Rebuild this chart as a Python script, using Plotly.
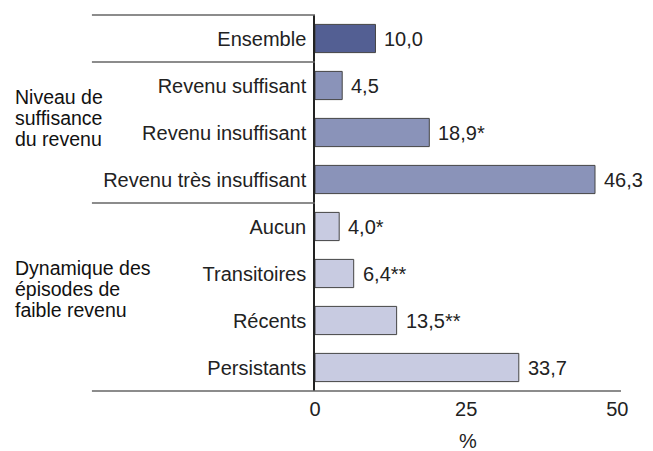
import plotly.graph_objects as go

categories = ["Ensemble", "Revenu suffisant", "Revenu insuffisant", "Revenu très insuffisant",
              "Aucun", "Transitoires", "Récents", "Persistants"]
values = [10.0, 4.5, 18.9, 46.3, 4.0, 6.4, 13.5, 33.7]
value_labels = ["10,0", "4,5", "18,9*", "46,3", "4,0*", "6,4**", "13,5**", "33,7"]
bar_colors = ["#535f93", "#8a93b9", "#8a93b9", "#8a93b9", "#c8cbe1", "#c8cbe1", "#c8cbe1", "#c8cbe1"]
group1_lines = ["Niveau de", "suffisance", "du revenu"]
group2_lines = ["Dynamique des", "épisodes de", "faible revenu"]
x_ticks = [0, 25, 50]

FONT = "Liberation Sans, Arial, sans-serif"
FS = 20
GFS = 19.5
fig = go.Figure()
fig.add_trace(go.Bar(
    x=values, y=categories, orientation="h", width=0.6,
    marker=dict(color=bar_colors, line=dict(color="#444444", width=1)),
    hoverinfo="skip",
))

for v, c, t in zip(values, categories, value_labels):
    fig.add_annotation(x=v, y=c, text=t, showarrow=False, xanchor="left", xshift=7,
                       font=dict(size=FS, color="#222222", family=FONT))

LEFT = -0.729
line_col = "#666666"
fig.add_shape(type="line", xref="paper", yref="paper", x0=LEFT, x1=1.0, y0=0, y1=0,
              line=dict(color=line_col, width=1.5))
fig.add_shape(type="line", xref="paper", yref="paper", x0=LEFT, x1=0, y0=1, y1=1,
              line=dict(color=line_col, width=1.5))
for yy in [0.5, 3.5]:
    fig.add_shape(type="line", xref="paper", yref="y", x0=LEFT, x1=0, y0=yy, y1=yy,
                  line=dict(color=line_col, width=1.5))

for txt, py in zip(group1_lines, [0.782, 0.726, 0.670]):
    fig.add_annotation(xref="paper", yref="paper", x=-0.985, y=py, text=txt,
                       showarrow=False, xanchor="left", yanchor="middle", align="left",
                       borderpad=0, font=dict(size=GFS, color="#111111", family=FONT))
for txt, py in zip(group2_lines, [0.327, 0.271, 0.215]):
    fig.add_annotation(xref="paper", yref="paper", x=-0.985, y=py, text=txt,
                       showarrow=False, xanchor="left", yanchor="middle", align="left",
                       borderpad=0, font=dict(size=GFS, color="#111111", family=FONT))

fig.update_layout(
    width=653, height=451,
    margin=dict(l=307, r=40, t=7, b=68),
    paper_bgcolor="white", plot_bgcolor="white",
    showlegend=False,
    font=dict(family=FONT, size=FS, color="#222222"),
    xaxis=dict(range=[0, 50.6], tickvals=x_ticks, ticktext=[str(t) for t in x_ticks],
               showgrid=False, zeroline=False, showline=False,
               ticklabelstandoff=4,
               title=dict(text="%", standoff=14, font=dict(size=FS)),
               tickfont=dict(size=FS)),
    yaxis=dict(autorange=False, range=[7.5, -0.5], showgrid=False, zeroline=False,
               showline=True, linecolor="#222222", linewidth=1.5,
               ticks="", ticklabelstandoff=3, tickfont=dict(size=FS)),
)

fig.write_html("out.html")
